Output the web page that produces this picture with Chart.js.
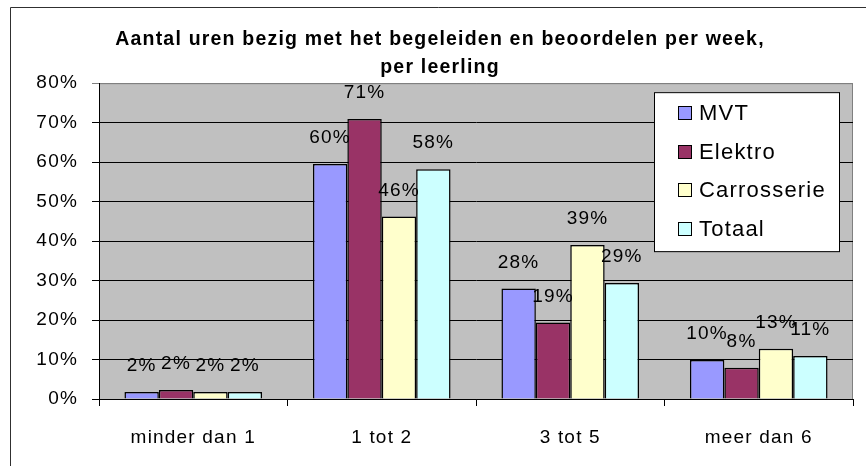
<!DOCTYPE html>
<html lang="nl">
<head>
<meta charset="UTF-8" />
<title>Aantal uren bezig met het begeleiden en beoordelen per week, per leerling</title>
<script src="https://cdn.jsdelivr.net/npm/chart.js"></script>
<style>
  body { margin: 0; background: #ffffff; }
  #wrap { width: 866px; height: 466px; }
</style>
</head>
<body>
<div id="wrap"><canvas id="urenChart" width="866" height="466"></canvas></div>
<script>
// data (percent of students)
const categories = ["minder dan 1", "1 tot 2", "3 tot 5", "meer dan 6"];
const seriesNames = ["MVT", "Elektro", "Carrosserie", "Totaal"];
const mvt = [1.8, 59.5, 28.0, 9.9];
const elektro = [2.3, 70.9, 19.4, 7.9];
const carrosserie = [1.8, 46.2, 39.0, 12.7];
const totaal = [1.8, 58.2, 29.4, 10.9];
const yTicks = [0, 10, 20, 30, 40, 50, 60, 70, 80];
const titleLines = ["Aantal uren bezig met het begeleiden en beoordelen per week,", "per leerling"];

const seriesValues = [mvt, elektro, carrosserie, totaal];
const seriesColors = ["#9999ff", "#993366", "#ffffcc", "#ccffff"];
const FONT = "'Liberation Sans', Arial, sans-serif";
const SPACING = "1.2px";

// the old chart has its letters spread out a bit
const letterSpacing = {
  id: "letterSpacing",
  beforeLayout(chart) { chart.ctx.letterSpacing = SPACING; },
  beforeDraw(chart) { chart.ctx.letterSpacing = SPACING; }
};

// grey plot area and the frame round the chart
const plotBackground = {
  id: "plotBackground",
  beforeDraw(chart) {
    const { ctx, chartArea: a } = chart;
    ctx.save();
    ctx.fillStyle = "#c0c0c0";
    ctx.fillRect(a.left, a.top, a.width, a.height);
    ctx.strokeStyle = "#808080";
    ctx.lineWidth = 1;
    ctx.strokeRect(a.left + 0.5, a.top + 0.5, a.width - 1, a.height);
    ctx.strokeStyle = "#303030";
    ctx.beginPath();
    ctx.moveTo(10.5, 466);
    ctx.lineTo(10.5, 7.5);
    ctx.lineTo(866, 7.5);
    ctx.stroke();
    ctx.restore();
  }
};

// value labels above the bars
const valueLabels = {
  id: "valueLabels",
  afterDatasetsDraw(chart) {
    const ctx = chart.ctx;
    ctx.save();
    ctx.font = "19px " + FONT;
    ctx.fillStyle = "#000";
    ctx.textAlign = "center";
    ctx.textBaseline = "middle";
    chart.data.datasets.forEach((ds, i) => {
      chart.getDatasetMeta(i).data.forEach((bar, j) => {
        ctx.fillText(Math.round(ds.data[j]) + "%", bar.x, bar.y - 26);
      });
    });
    ctx.restore();
  }
};

// legend box inside the plot, top right
const boxLegend = {
  id: "boxLegend",
  afterDraw(chart) {
    const { ctx, chartArea: a } = chart;
    const x0 = a.right - 199, y0 = a.top + 9;
    ctx.save();
    ctx.fillStyle = "#fff";
    ctx.fillRect(x0, y0, 185, 159);
    ctx.strokeStyle = "#000";
    ctx.lineWidth = 1;
    ctx.strokeRect(x0 + 0.5, y0 + 0.5, 185, 159);
    ctx.font = "22px " + FONT;
    ctx.textBaseline = "middle";
    chart.data.datasets.forEach((ds, i) => {
      const cy = Math.round(y0 + 21 + i * 38.5);
      ctx.fillStyle = ds.backgroundColor;
      ctx.fillRect(x0 + 24, cy - 7, 14, 14);
      ctx.strokeRect(x0 + 24.5, cy - 6.5, 13, 13);
      ctx.fillStyle = "#000";
      ctx.fillText(ds.label, x0 + 45, cy + 1);
    });
    ctx.restore();
  }
};

new Chart(document.getElementById("urenChart"), {
  type: "bar",
  data: {
    labels: categories,
    datasets: seriesNames.map((name, i) => ({
      label: name,
      data: seriesValues[i],
      backgroundColor: seriesColors[i],
      borderColor: "#000",
      borderWidth: 1.5,
      categoryPercentage: 0.73,
      barPercentage: 1
    }))
  },
  options: {
    responsive: false,
    animation: false,
    layout: { padding: { top: 26, left: 27, right: 13, bottom: 17 } },
    scales: {
      x: {
        afterFit(scale) { scale.height = 50; },
        grid: { drawOnChartArea: false, offset: true, tickLength: 7, color: "#000" },
        border: { color: "#000" },
        ticks: { color: "#000", padding: 20, font: { family: FONT, size: 19 } }
      },
      y: {
        min: 0,
        max: 80,
        afterBuildTicks(scale) { scale.ticks = yTicks.map(v => ({ value: v })); },
        afterFit(scale) { scale.width = 72; },
        grid: { tickLength: 7, color: ctx => (ctx.tick && ctx.tick.value === 80 ? "#808080" : "#000") },
        border: { color: "#000" },
        ticks: {
          color: "#000",
          padding: 14,
          font: { family: FONT, size: 19 },
          callback: v => v + "%"
        }
      }
    },
    plugins: {
      legend: { display: false },
      tooltip: { enabled: false },
      title: {
        display: true,
        text: titleLines,
        color: "#000",
        padding: { top: 0, bottom: 1 },
        font: { family: FONT, size: 19.5, weight: "bold", lineHeight: 1.44 }
      }
    }
  },
  plugins: [letterSpacing, plotBackground, valueLabels, boxLegend]
});
</script>
</body>
</html>
